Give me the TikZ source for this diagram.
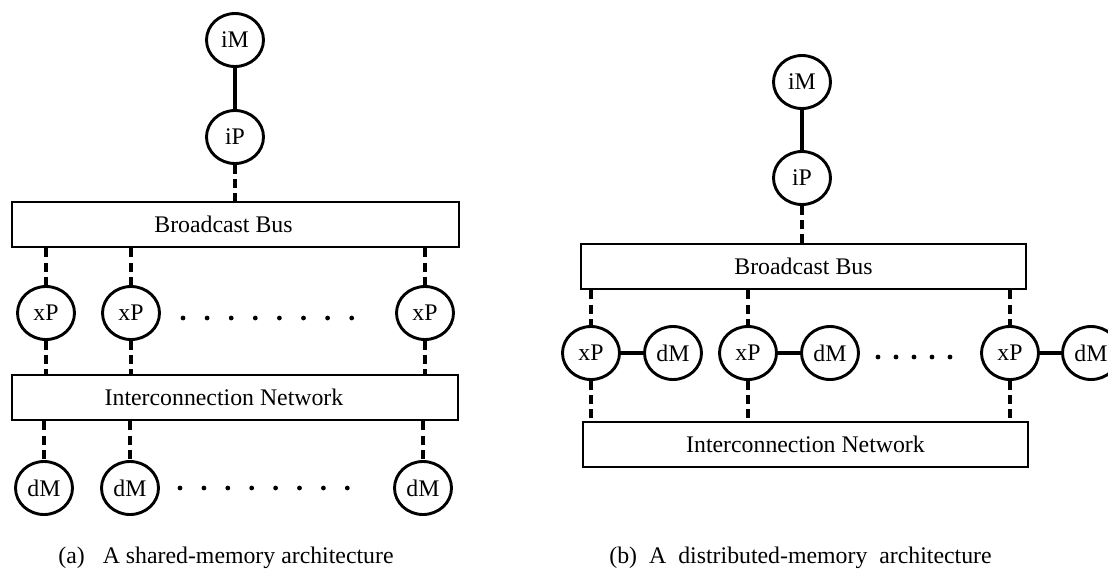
\documentclass[tikz,border=0pt]{standalone}
\usepackage{fontspec}
\setmainfont{Liberation Serif}
\usetikzlibrary{shapes.geometric}
\begin{document}
\begin{tikzpicture}[x=0.5pt,y=-0.5pt,
  every node/.style={font=\fontsize{11.9}{14}\selectfont},
  unit/.style={ellipse,draw,line width=1.45pt,minimum width=28.5pt,minimum height=26.5pt,inner sep=0pt},
  busbox/.style={rectangle,draw,line width=1.4pt,inner sep=0pt},
  dashlink/.style={line width=1.9pt,dash pattern=on 4.5pt off 2.6pt},
  solidlink/.style={line width=2pt},
  dotmark/.style={circle,fill,inner sep=0pt,minimum size=2.4pt},
  captext/.style={anchor=west,inner sep=0pt}
]
\clip (0,0) rectangle (1108,580);
% ---------- (a) ----------
\node[unit] (iMa) at (235,40) {iM};
\node[unit] (iPa) at (235,137) {iP};
\node[busbox,minimum width=223.5pt,minimum height=22.5pt] (busa) at (235.5,224.5) {\hspace*{-12pt}Broadcast Bus};
\node[unit] (xPa1) at (46,313) {xP};
\node[unit] (xPa2) at (131,313) {xP};
\node[unit] (xPa3) at (425,313) {xP};
\node[busbox,minimum width=223pt,minimum height=22.5pt] (ina) at (235,397.5) {\hspace*{-11pt}Interconnection Network};
\node[unit] (dMa1) at (44,488) {dM};
\node[unit] (dMa2) at (130,488) {dM};
\node[unit] (dMa3) at (423,488) {dM};
\draw[solidlink] (iMa) -- (iPa);
\draw[dashlink] (iPa.south) -- (iPa.south |- busa.north);
\foreach \i in {1,2,3}{
  \draw[dashlink] (busa.south -| xPa\i) -- (xPa\i.north);
  \draw[dashlink] (xPa\i.south) -- (xPa\i.south |- ina.north);
  \draw[dashlink] (ina.south -| dMa\i) -- (dMa\i.north);
}
\foreach \k in {0,...,7}{
  \node[dotmark] (da\k) at ({183+\k*24.1},318) {};
  \node[dotmark] (db\k) at ({180+\k*23.9},488) {};
}
\node[captext] (capa) at (58,558) {(a)\hspace{9pt}A shared-memory architecture};
% ---------- (b) ----------
\node[unit] (iMb) at (802,82) {iM};
\node[unit] (iPb) at (802,178) {iP};
\node[busbox,minimum width=222.5pt,minimum height=22.5pt] (busb) at (803.5,266.5) {Broadcast Bus};
\node[unit] (xPb1) at (591,353) {xP};
\node[unit] (dMb1) at (673,353) {dM};
\node[unit] (xPb2) at (748,353) {xP};
\node[unit] (dMb2) at (830,353) {dM};
\node[unit] (xPb3) at (1010,353) {xP};
\node[unit] (dMb3) at (1091,353) {dM};
\node[busbox,minimum width=222.5pt,minimum height=22.5pt] (inb) at (805.5,444.5) {Interconnection Network};
\draw[solidlink] (iMb) -- (iPb);
\draw[dashlink] (iPb.south) -- (iPb.south |- busb.north);
\foreach \i in {1,2,3}{
  \draw[solidlink] (xPb\i) -- (dMb\i);
  \draw[dashlink] (busb.south -| xPb\i) -- (xPb\i.north);
  \draw[dashlink] (xPb\i.south) -- (xPb\i.south |- inb.north);
}
\foreach \k in {0,...,4}{
  \node[dotmark] (dc\k) at ({878+\k*18},357) {};
}
\node[captext] (capb) at (609,558) {(b)\hspace{6pt}A\hspace{6pt}distributed-memory\hspace{6pt}architecture};
\end{tikzpicture}
\end{document}
